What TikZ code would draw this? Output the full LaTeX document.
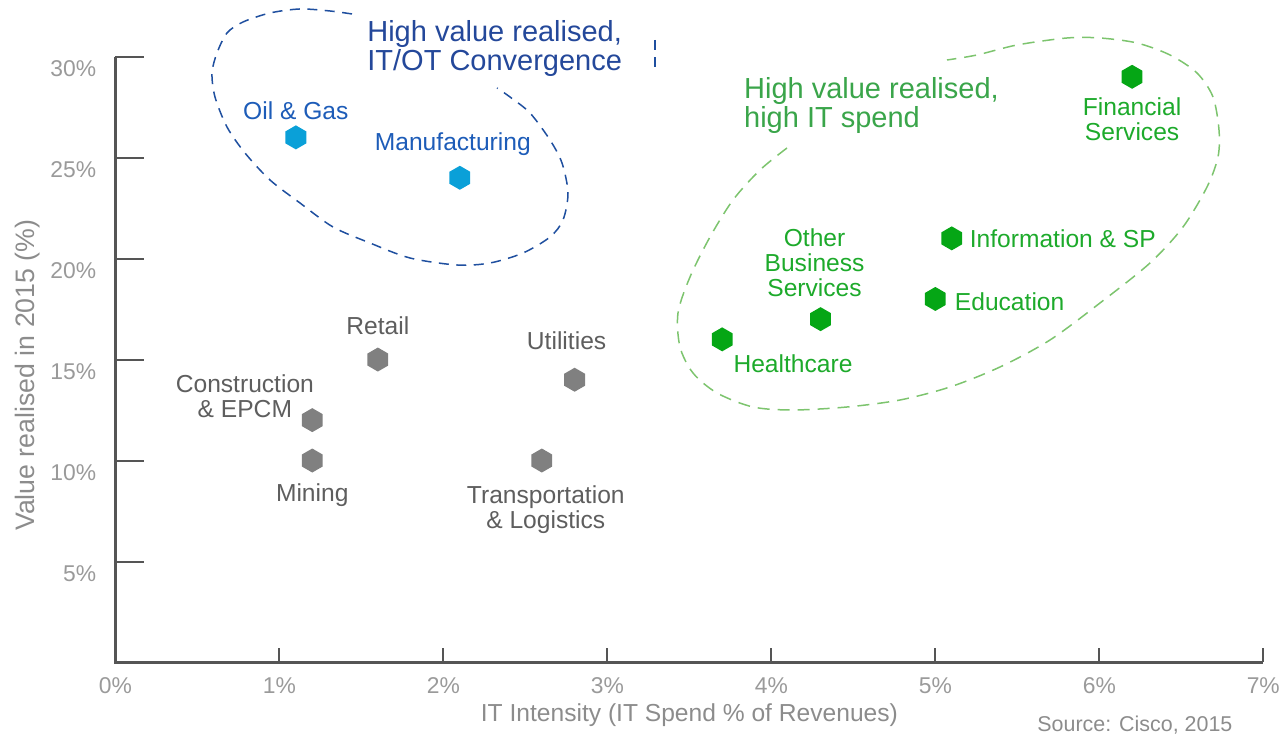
\documentclass[tikz,border=0pt]{standalone}
\usepackage{fontspec}
\setmainfont{Liberation Sans}
\usepackage{tikz}
\usetikzlibrary{shapes.geometric,positioning}

\definecolor{axisgray}{HTML}{555555}
\definecolor{ticktext}{HTML}{9A9A9A}
\definecolor{titlegray}{HTML}{8C8C8C}
\definecolor{mkgray}{HTML}{808080}
\definecolor{lbgray}{HTML}{5E5E5E}
\definecolor{mkblue}{HTML}{0AA0D8}
\definecolor{lbblue}{HTML}{1D5CB8}
\definecolor{ttblue}{HTML}{24489A}
\definecolor{rgblue}{HTML}{1F4F9F}
\definecolor{mkgreen}{HTML}{05A615}
\definecolor{lbgreen}{HTML}{1DAA2B}
\definecolor{ttgreen}{HTML}{3AA54A}
\definecolor{rggreen}{HTML}{7DC46E}

\tikzset{
	hexbase/.style={regular polygon, regular polygon sides=6, shape border rotate=30,
		minimum size=0.48cm, inner sep=0pt, draw=none},
	hexB/.style={hexbase, fill=mkblue},
	hexG/.style={hexbase, fill=mkgreen},
	hexK/.style={hexbase, fill=mkgray},
	lbl/.style={inner sep=0pt, align=center, font=\fontsize{14}{14.2}\selectfont},
	lblB/.style={lbl, text=lbblue},
	lblG/.style={lbl, text=lbgreen},
	lblK/.style={lbl, text=lbgray},
	grptitle/.style={inner sep=0pt, align=left, anchor=north west, font=\fontsize{16.5}{16.5}\selectfont},
	ticklbl/.style={inner sep=0pt, text=ticktext, font=\fontsize{13}{13}\selectfont},
	axtitle/.style={inner sep=0pt, text=titlegray, font=\fontsize{14}{14}\selectfont},
	axisline/.style={draw=axisgray, line width=0.066cm},
	tickline/.style={draw=axisgray, line width=0.04cm},
	region/.style={line width=0.03cm, dash pattern=on 0.2cm off 0.15cm}
}

\begin{document}
\begin{tikzpicture}[x=3.28cm,y=0.404cm]

	% outlines in pixel units of the page
	\begin{scope}[x=0.02cm,y=-0.02cm,shift={(-115.5,-662.5)}]
		\useasboundingbox (0,0) rectangle (1285,739);
		%IT/OT convergence
		\draw[region, rgblue] plot[smooth] coordinates {(352,14) (330,11) (300,9) (270,13) (243,22) (227,33)
			(217,53) (212,73) (215,97) (227,127) (245,153) (270,180) (300,203) (333,227) (370,243)
			(410,258) (457,265) (490,263) (523,253) (550,237) (563,220) (568,193) (562,163)
			(550,140) (530,113) (510,97) (497,88)};
		\draw[region, rgblue] (655,40) -- (655,72);
		%high IT spend
		\draw[region, rggreen, dash pattern=on 0.24cm off 0.16cm] plot[smooth] coordinates {(787,148) (760,170)
			(733,200) (710,237) (690,277) (678,313) (680,347) (693,373) (717,393) (753,407)
			(793,410) (847,407) (900,400) (950,387) (1000,367) (1050,340) (1100,303) (1150,263)
			(1183,227) (1207,187) (1218,157) (1219,130) (1213,97) (1197,73) (1170,55) (1137,43)
			(1100,38) (1067,38) (1017,45) (977,55) (947,60)};
	\end{scope}

	%Axes
	\draw[axisline] (0,30) -- (0,0) -- (7,0);
	\foreach \v in {0,5,...,30}
		\draw[tickline] (0,\v) -- ++(0.58cm,0);
	\foreach \v in {5,10,...,30}
		\node[ticklbl, anchor=east] at ([xshift=-0.38cm,yshift=-0.25cm]0,\v) {\v\%};
	\foreach \v in {1,...,7}
		\draw[tickline] (\v,0) -- ++(0,0.28cm);
	\foreach \v in {0,...,7}
		\node[ticklbl] at ([yshift=-0.46cm]\v,0) {\v\%};

	\node[axtitle] (xtitle) at (3.5,-2.6) {IT Intensity (IT Spend \% of Revenues)};
	\node[axtitle, rotate=90, font=\fontsize{15.2}{15.2}\selectfont] (ytitle) at (-0.534,14.23) {Value realised in 2015 (\%)};
	\node[axtitle, anchor=east, font=\fontsize{12.2}{12.2}\selectfont] (source) at (6.814,-3.094) {Source: Cisco, 2015};

	%Group titles
	\node[grptitle, text=ttblue] (convtitle) at (1.534,31.80) {High value realised,\\IT/OT Convergence};
	\node[grptitle, text=ttgreen] (spendtitle) at (3.832,28.98) {High value realised,\\high IT spend};

	%Points
	\node[hexB] (oil) at (1.1,26) {};
	\node[lblB, above=0.1cm of oil] {Oil \& Gas};
	\node[hexB] (manu) at (2.1,24) {};
	\node[lblB, above=0.18cm of manu, xshift=-0.14cm] {Manufacturing};

	\node[hexK] (retail) at (1.6,15) {};
	\node[lblK, above=0.24cm of retail] {Retail};
	\node[hexK] (constr) at (1.2,12) {};
	\node[lblK, anchor=south east] at ([xshift=0.04cm,yshift=0.04cm]constr.center) {Construction\\\& EPCM};
	\node[hexK] (mining) at (1.2,10) {};
	\node[lblK, below=0.2cm of mining] {Mining};
	\node[hexK] (util) at (2.8,14) {};
	\node[lblK, above=0.34cm of util, xshift=-0.16cm] {Utilities};
	\node[hexK] (transp) at (2.6,10) {};
	\node[lblK, below=0.25cm of transp, xshift=0.08cm] {Transportation\\\& Logistics};

	\node[hexG] (health) at (3.7,16) {};
	\node[lblG, anchor=north west] at ([xshift=0.22cm,yshift=-0.3cm]health.center) {Healthcare};
	\node[hexG] (obs) at (4.3,17) {};
	\node[lblG, above=0.2cm of obs, xshift=-0.12cm] {Other\\Business\\Services};
	\node[hexG] (edu) at (5,18) {};
	\node[lblG, right=0.17cm of edu, yshift=-0.06cm] {Education};
	\node[hexG] (info) at (5.1,21) {};
	\node[lblG, right=0.14cm of info] {Information \& SP};
	\node[hexG] (fin) at (6.2,29) {};
	\node[lblG, below=0.16cm of fin] {Financial\\Services};

\end{tikzpicture}
\end{document}
